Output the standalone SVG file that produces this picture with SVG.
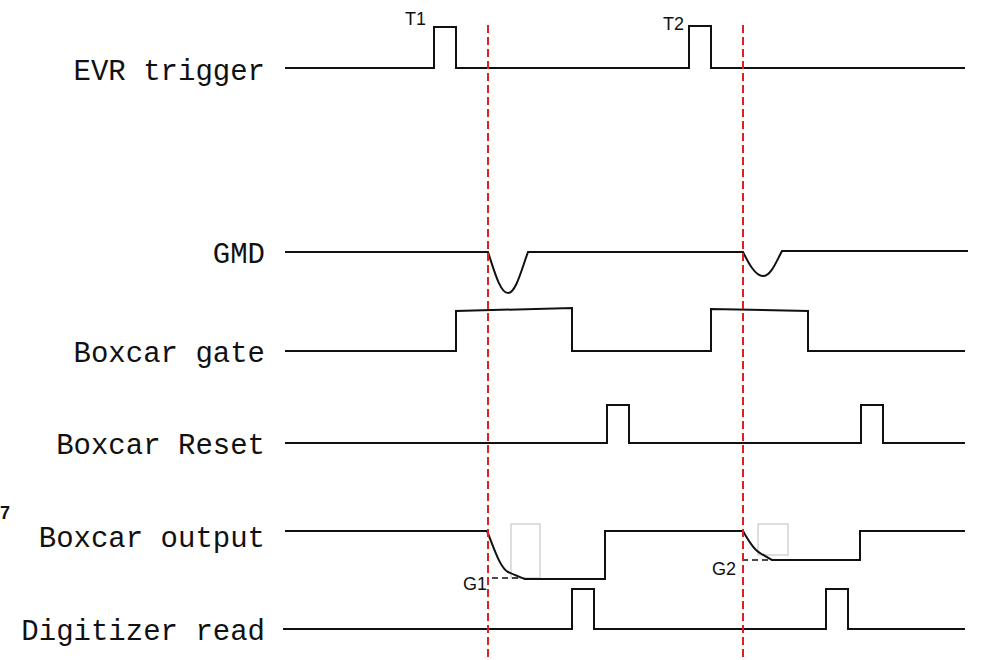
<svg xmlns="http://www.w3.org/2000/svg" width="984" height="660" viewBox="0 0 984 660">
<style>
.lbl{font-family:"Liberation Mono","DejaVu Sans Mono",monospace;font-size:29px;fill:#111;text-anchor:end}
.sm{font-family:"Liberation Sans","Noto Sans",sans-serif;font-size:18px;fill:#111}
.sig{fill:none;stroke:#111;stroke-width:2;stroke-linejoin:miter}
.ref{fill:none;stroke:#e02020;stroke-width:2;stroke-dasharray:8,4}
.gd{fill:none;stroke:#111;stroke-width:1.5;stroke-dasharray:6,4}
.box{fill:none;stroke:#c8c8c8;stroke-width:1.2}
</style>
<rect width="984" height="660" fill="#fff"/>
<text x="0" y="519" style="font-family:'Liberation Sans',sans-serif;font-size:18px;font-weight:bold;fill:#111">7</text>
<g id="evr-trigger">
<text class="lbl" x="265" y="80">EVR trigger</text>
<path class="sig" d="M285 68 H434 V27 H456 V68 H689 V26 H711 V68 H965"/>
<text class="sm" x="405" y="25">T1</text>
<text class="sm" x="663" y="30">T2</text>
</g>
<g id="gmd">
<text class="lbl" x="265" y="263">GMD</text>
<path class="sig" d="M285 252 H488 C494 270 500 293 508 293 C516 293 522 268 528 252 H743 C748 262 755 276 763 276 C771 276 776 262 782 251 H968"/>
</g>
<g id="boxcar-gate">
<text class="lbl" x="265" y="362">Boxcar gate</text>
<path class="sig" d="M285 351 H456 V311 L572 308 V351 H711 V309 L808 311 V351 H965"/>
</g>
<g id="boxcar-reset">
<text class="lbl" x="265" y="454">Boxcar Reset</text>
<path class="sig" d="M285 443 H607 V405 H629 V443 H861 V405 H883 V443 H965"/>
</g>
<g id="boxcar-output">
<text class="lbl" x="265" y="547">Boxcar output</text>
<rect class="box" x="511" y="524" width="29" height="54"/>
<rect class="box" x="758" y="524" width="30" height="31"/>
<path class="sig" d="M285 531 H487 C494 548 500 568 508 572 C514 575 520 577 525 579 H605 V531 H743 C748 540 754 550 760 553 C765 556 768 558 772 560 H860 V531 H965"/>
<path class="gd" d="M492 578 H522"/>
<path class="gd" d="M742 560 H772"/>
<text class="sm" x="463" y="590">G1</text>
<text class="sm" x="712" y="575">G2</text>
</g>
<g id="digitizer-read">
<text class="lbl" x="265" y="640">Digitizer read</text>
<path class="sig" d="M283 629 H572 V589 H594 V629 H826 V589 H848 V629 H965"/>
</g>
<g id="connectors">
<path class="ref" d="M488 25 V660"/>
<path class="ref" d="M743 25 V660"/>
</g>
</svg>
